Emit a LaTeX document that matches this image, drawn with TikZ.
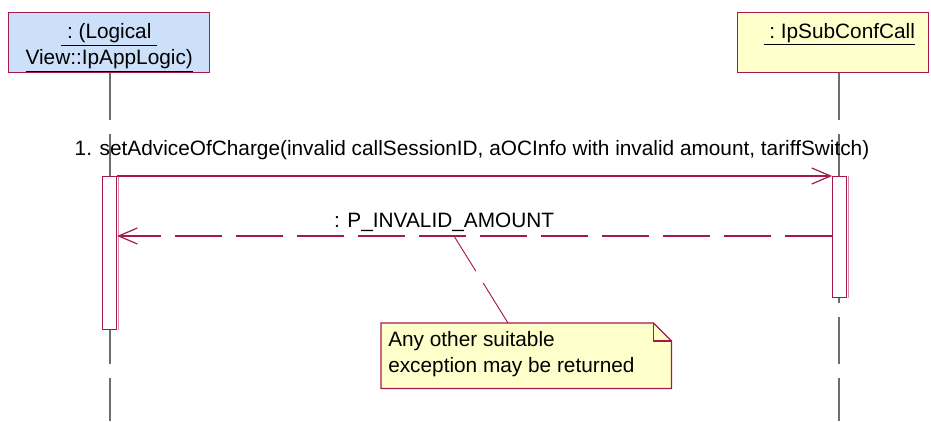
\documentclass[tikz,border=0pt]{standalone}
\usepackage{fontspec}
\setmainfont{Liberation Sans}
\usetikzlibrary{arrows.meta,calc}
\definecolor{umlred}{RGB}{165,25,75}
\definecolor{umlgray}{RGB}{110,110,110}
\definecolor{objblue}{RGB}{204,224,250}
\definecolor{objyellow}{RGB}{255,255,204}
\definecolor{edgepink}{RGB}{220,140,170}
\begin{document}
\begin{tikzpicture}[x=0.75pt,y=-0.75pt, font=\fontsize{15.6pt}{19.5pt}\selectfont,
  objbox/.style={draw=umlred, line width=1.1pt, inner sep=0pt, align=center, anchor=north west, minimum height=45pt},
  lifeline/.style={draw=umlgray, line width=1.1pt, dash pattern=on 35.25pt off 10.5pt},
  actbox/.style={draw=umlred, fill=white, line width=0.9pt, minimum width=10.5pt, inner sep=0pt, anchor=north west},
  actedge/.style={draw=edgepink, line width=0.75pt},
  msg/.style={draw=umlred, line width=0.8pt, -{Straight Barb[length=14pt,width=12pt,line width=0.9pt]}},
  ret/.style={msg, dash pattern=on 35.25pt off 10.5pt},
  notelink/.style={draw=umlred, line width=0.7pt, dash pattern=on 35.25pt off 10.5pt},
  notebox/.style={draw=umlred, fill=objyellow, line width=0.9pt},
  lbl/.style={inner sep=0pt, anchor=base},
]
\useasboundingbox (0,0) rectangle (931,421);

% objects
\node[objbox, fill=objblue, minimum width=150.75pt] (objA) at (8,12)
  {\rule{0pt}{19pt}\underline{\ :\ (Logical\ }\\\underline{View::IpAppLogic)}};
\node[objbox, fill=objyellow, minimum width=143.25pt] (objB) at (737,12)
  {\rule{0pt}{19pt}\hspace*{9pt}\underline{\ :\ IpSubConfCall}\\\strut};

% lifelines
\coordinate (endA) at (110,421);
\coordinate (endB) at (839,421);
\draw[lifeline] (objA.south -| endA) -- (endA);
\draw[lifeline] (objB.south -| endB) -- (endB);

% activations
\node[actbox, minimum height=114.75pt] (actA) at (102,176) {};
\node[actbox, minimum height=90.75pt] (actB) at (832,176) {};
\draw[actedge] ([xshift=0.9pt]actA.north east) -- ([xshift=0.9pt]actA.south east);
\draw[actedge] ([xshift=0.9pt]actB.north east) -- ([xshift=0.9pt]actB.south east);

% message 1
\draw[msg] (actA.north east) -- (actB.north west);
\node[lbl] (m1) at (472,155) {1. setAdviceOfCharge(invalid callSessionID, aOCInfo with invalid amount, tariffSwitch)};

% return
\coordinate (retY) at (0,236);
\draw[ret] (actB.west |- retY) -- (actA.east |- retY);
\node[lbl] (m2) at (444,227) {: P\_INVALID\_AMOUNT};

% note
\node[inner sep=0pt, minimum width=217.5pt, minimum height=48.75pt, anchor=north west] (noteN) at (381,323) {};
\draw[notebox] (noteN.north west) -- ([xshift=-13.5pt]noteN.north east) -- ([yshift=-13.5pt]noteN.north east)
  -- (noteN.south east) -- (noteN.south west) -- cycle;
\draw[draw=umlred, line width=0.9pt] ([xshift=-13.5pt]noteN.north east) -- ([xshift=-13.5pt,yshift=-13.5pt]noteN.north east)
  -- ([yshift=-13.5pt]noteN.north east);
\node[lbl, anchor=base west] (n1) at (388,346) {Any other suitable};
\node[lbl, anchor=base west] (n2) at (388,372) {exception may be returned};

\coordinate (mc) at (454,236);
\draw[notelink] ([xshift=95.25pt]noteN.north west) -- (mc);
\end{tikzpicture}
\end{document}
